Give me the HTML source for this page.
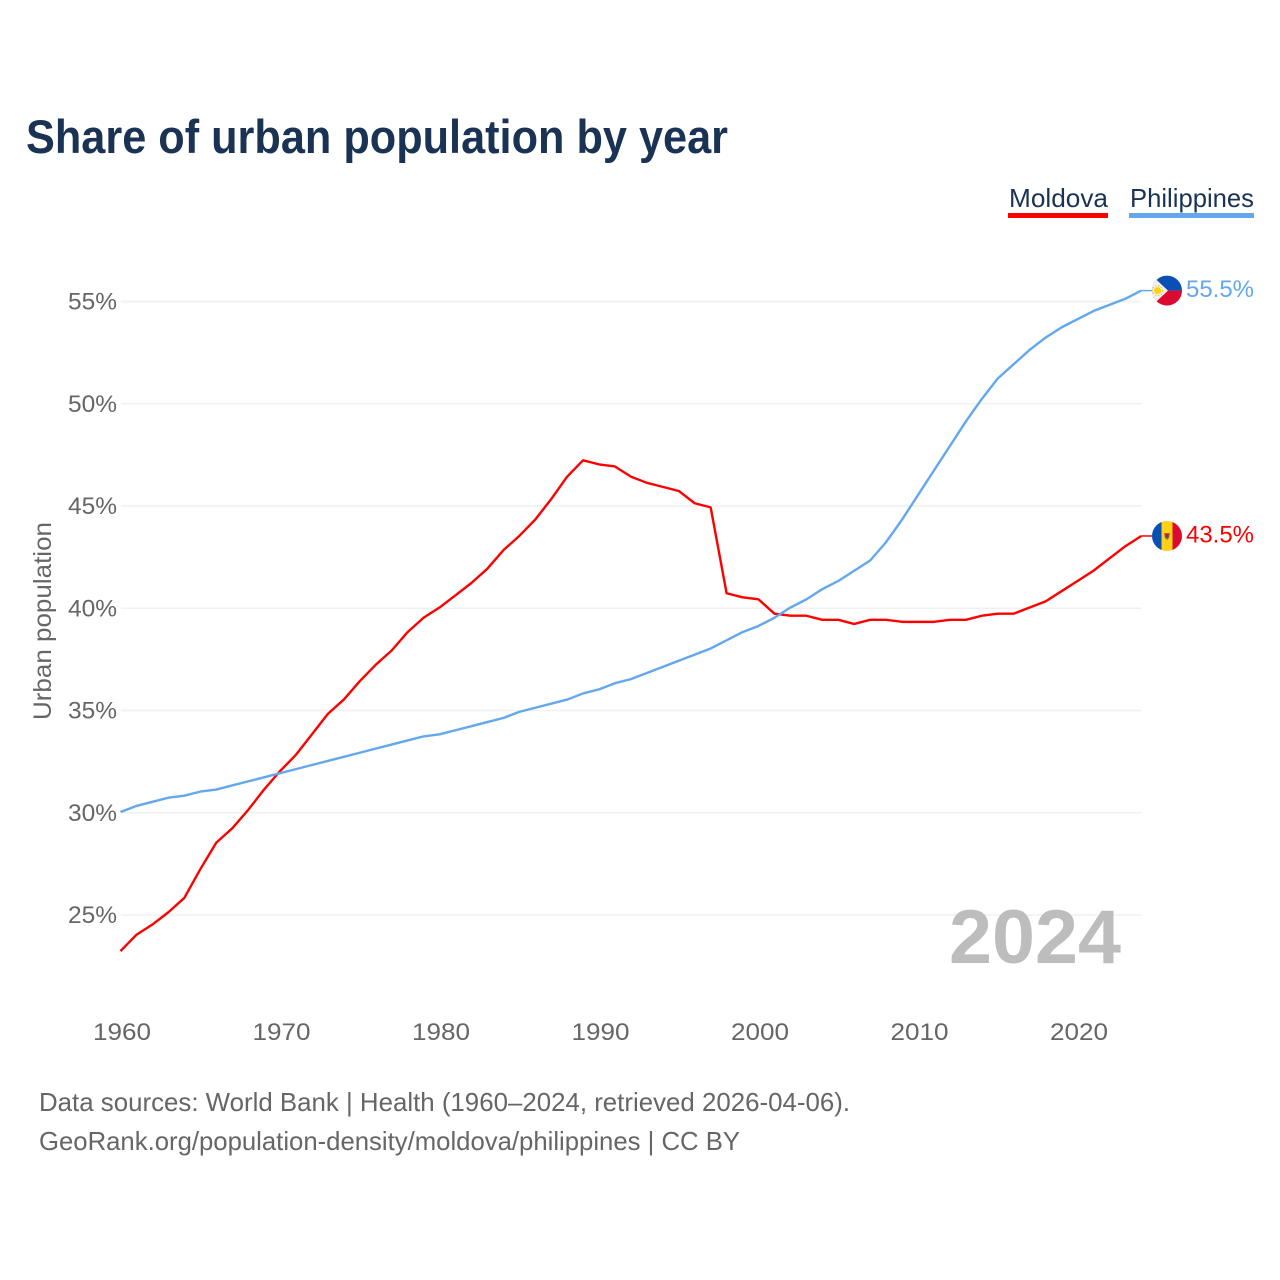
<!DOCTYPE html>
<html lang="en">
<head>
<meta charset="utf-8">
<title>Share of urban population by year</title>
<style>
html,body{margin:0;padding:0;background:#fff;width:1280px;height:1280px;overflow:hidden}
svg{display:block}
text{font-family:"Liberation Sans",sans-serif}
</style>
</head>
<body>
<svg id="chart" xmlns="http://www.w3.org/2000/svg" width="1280" height="1280" viewBox="0 0 1280 1280">
  <rect width="1280" height="1280" fill="#fff"/>
  <text x="26" y="153" font-size="47" font-weight="700" fill="#1a3354" textLength="702" lengthAdjust="spacingAndGlyphs">Share of urban population by year</text>
  <g>
    <g>
      <text x="1009" y="207" font-size="26" fill="#1a3354" textLength="99" lengthAdjust="spacingAndGlyphs">Moldova</text>
      <rect x="1008" y="213" width="100" height="5" fill="#ff0000"/>
    </g>
    <g>
      <text x="1130" y="207" font-size="26" fill="#1a3354" textLength="124" lengthAdjust="spacingAndGlyphs">Philippines</text>
      <rect x="1129" y="213" width="125" height="5" fill="#63a7ed"/>
    </g>
  </g>
  <g id="grid"></g>
  <g id="yticks"></g>
  <g id="xticks"></g>
  <text transform="translate(51,621) rotate(-90)" text-anchor="middle" font-size="25" fill="#666" textLength="198" lengthAdjust="spacingAndGlyphs">Urban population</text>
  <text x="949" y="963" font-size="76" font-weight="700" fill="#bdbdbd" textLength="172" lengthAdjust="spacingAndGlyphs">2024</text>
  <g id="series"></g>
  <defs>
    <clipPath id="flag-clip"><circle cx="0" cy="0" r="15"/></clipPath>
  </defs>
  <g id="flag-philippines" clip-path="url(#flag-clip)">
    <rect x="-15" y="-15" width="30" height="15" fill="#0a50b4"/>
    <rect x="-15" y="0" width="30" height="15" fill="#dc0a30"/>
    <polygon points="-15,-15 -15,15 1,0" fill="#f0f0f0"/>
    <circle cx="-9.5" cy="0" r="3.5" fill="#fcd116"/>
    <circle cx="-9.5" cy="0" r="5" fill="none" stroke="#fcd116" stroke-width="1.2" stroke-dasharray="1.5 1.5"/>
  </g>
  <g id="flag-moldova" clip-path="url(#flag-clip)">
    <rect x="-15" y="-15" width="9.5" height="30" fill="#0a50b4"/>
    <rect x="-5.5" y="-15" width="11" height="30" fill="#fcd116"/>
    <rect x="5.5" y="-15" width="9.5" height="30" fill="#dc0a30"/>
    <polygon points="-3,-3 3,-3 2,2 0,4 -2,2" fill="#b5651d"/>
    <rect x="-1.5" y="-2" width="3" height="2" fill="#dc0a30"/>
    <rect x="-1.5" y="0" width="3" height="2" fill="#2a55a8"/>
  </g>
  <text x="39" y="1111" font-size="26" fill="#666" textLength="811" lengthAdjust="spacingAndGlyphs">Data sources: World Bank | Health (1960–2024, retrieved 2026-04-06).</text>
  <text x="39" y="1150" font-size="26" fill="#666" textLength="701" lengthAdjust="spacingAndGlyphs">GeoRank.org/population-density/moldova/philippines | CC BY</text>
</svg>
<script>
const years = [1960,1961,1962,1963,1964,1965,1966,1967,1968,1969,1970,1971,1972,1973,1974,1975,1976,1977,1978,1979,1980,1981,1982,1983,1984,1985,1986,1987,1988,1989,1990,1991,1992,1993,1994,1995,1996,1997,1998,1999,2000,2001,2002,2003,2004,2005,2006,2007,2008,2009,2010,2011,2012,2013,2014,2015,2016,2017,2018,2019,2020,2021,2022,2023,2024];
const moldova = [23.2,24.0,24.5,25.1,25.8,27.2,28.5,29.2,30.1,31.1,32.0,32.8,33.8,34.8,35.5,36.4,37.2,37.9,38.8,39.5,40.0,40.6,41.2,41.9,42.8,43.5,44.3,45.3,46.4,47.2,47.0,46.9,46.4,46.1,45.9,45.7,45.1,44.9,40.7,40.5,40.4,39.7,39.6,39.6,39.4,39.4,39.2,39.4,39.4,39.3,39.3,39.3,39.4,39.4,39.6,39.7,39.7,40.0,40.3,40.8,41.3,41.8,42.4,43.0,43.5];
const philippines = [30.0,30.3,30.5,30.7,30.8,31.0,31.1,31.3,31.5,31.7,31.9,32.1,32.3,32.5,32.7,32.9,33.1,33.3,33.5,33.7,33.8,34.0,34.2,34.4,34.6,34.9,35.1,35.3,35.5,35.8,36.0,36.3,36.5,36.8,37.1,37.4,37.7,38.0,38.4,38.8,39.1,39.5,40.0,40.4,40.9,41.3,41.8,42.3,43.2,44.3,45.5,46.7,47.9,49.1,50.2,51.2,51.9,52.6,53.2,53.7,54.1,54.5,54.8,55.1,55.5];
const yTicks = [25,30,35,40,45,50,55];
const xTicks = [1960,1970,1980,1990,2000,2010,2020];

const NS = 'http://www.w3.org/2000/svg';
const xScale = function (year) { return 120.5 + (year - 1960) * 15.95; };
const yScale = function (value) { return 915 - (value - 25) * 20.45; };
const seriesY = function (value) { return yScale(value) - 0.7; };
const xEnd = xScale(years[years.length - 1]);

function make(tag, attrs, parent, content) {
  const el = document.createElementNS(NS, tag);
  Object.keys(attrs).forEach(function (k) { el.setAttribute(k, attrs[k]); });
  if (content !== undefined) el.textContent = content;
  parent.appendChild(el);
  return el;
}

const gridGroup = document.getElementById('grid');
const yGroup = document.getElementById('yticks');
const xGroup = document.getElementById('xticks');
const seriesGroup = document.getElementById('series');

yTicks.forEach(function (t) {
  const line = make('line', {x1: 121, x2: xEnd, y1: yScale(t), y2: yScale(t), stroke: '#f0f0f0', 'stroke-width': 1.5}, gridGroup);
  
  
  const label = make('text', {x: 117, y: yScale(t) + 8, 'text-anchor': 'end', 'font-size': 24, fill: '#666', textLength: 49, lengthAdjust: 'spacingAndGlyphs'}, yGroup, t + '%');
  
  
});

xTicks.forEach(function (t) {
  const label = make('text', {x: xScale(t) + 1.5, y: 1040, 'text-anchor': 'middle', 'font-size': 24, fill: '#666', textLength: 58, lengthAdjust: 'spacingAndGlyphs'}, xGroup, String(t));
  
  
});

function pointsFor(values) {
  return values.map(function (v, i) { return xScale(years[i]).toFixed(2) + ',' + seriesY(v).toFixed(2); }).join(' ');
}

const moldovaLine = make('polyline', {points: pointsFor(moldova), fill: 'none', stroke: '#ff0000', 'stroke-width': 2.4, 'stroke-linejoin': 'round'}, seriesGroup);



const philippinesLine = make('polyline', {points: pointsFor(philippines), fill: 'none', stroke: '#63a7ed', 'stroke-width': 2.4, 'stroke-linejoin': 'round'}, seriesGroup);



const moldovaLast = moldova[moldova.length - 1];
const philippinesLast = philippines[philippines.length - 1];

const moldovaLink = make('line', {x1: xEnd, x2: 1153, y1: seriesY(moldovaLast), y2: seriesY(moldovaLast), stroke: '#ff0000', 'stroke-width': 1.5}, seriesGroup);



const philippinesLink = make('line', {x1: xEnd, x2: 1153, y1: seriesY(philippinesLast), y2: seriesY(philippinesLast), stroke: '#63a7ed', 'stroke-width': 1.5}, seriesGroup);



document.getElementById('flag-moldova').setAttribute('transform', 'translate(1167,' + seriesY(moldovaLast) + ')');
document.getElementById('flag-philippines').setAttribute('transform', 'translate(1167,' + seriesY(philippinesLast) + ')');

const moldovaValue = make('text', {x: 1186, y: seriesY(moldovaLast) + 6.5, 'font-size': 24, fill: '#ff0000', textLength: 68, lengthAdjust: 'spacingAndGlyphs'}, seriesGroup, moldovaLast.toFixed(1) + '%');



const philippinesValue = make('text', {x: 1186, y: seriesY(philippinesLast) + 6.5, 'font-size': 24, fill: '#63a7ed', textLength: 68, lengthAdjust: 'spacingAndGlyphs'}, seriesGroup, philippinesLast.toFixed(1) + '%');


</script>
</body>
</html>
